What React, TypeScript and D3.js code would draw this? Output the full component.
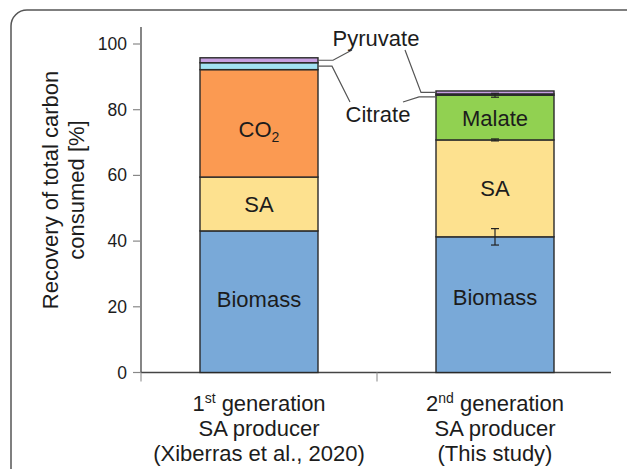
import React, { useEffect, useRef } from "react";
import * as d3 from "d3";

// stacked carbon recovery, bottom to top
const groups = ["gen1", "gen2"];
const components = ["Biomass", "SA", "CO2", "Malate", "Citrate", "Pyruvate"];
const gen1Values = [43.1, 16.4, 32.7, 0, 2.1, 1.5];
const gen2Values = [41.3, 29.5, 0, 13.6, 0.4, 0.9];
const gen2Errors = [2.5, 0.3, 0, 0.6, 0, 0];
const yTicks = [0, 20, 40, 60, 80, 100];
const colors = ["#79a9d8", "#fde18f", "#fb9a52", "#91d151", "#a2e2f4", "#c7a0e2"];
const gen1Labels = ["1st generation", "SA producer", "(Xiberras et al., 2020)"];
const gen2Labels = ["2nd generation", "SA producer", "(This study)"];

const W = 627;
const H = 469;

export default function App() {
  const ref = useRef<SVGSVGElement>(null);

  useEffect(() => {
    const svg = d3.select(ref.current);
    svg.selectAll("*").remove();
    const font = "Liberation Sans, Arial, sans-serif";
    const ink = "#1c1c1c";
    const fs = 22;

    // card frame
    svg.append("rect")
      .attr("x", 11).attr("y", 10).attr("width", 640).attr("height", 480)
      .attr("rx", 16)
      .attr("fill", "#fff").attr("stroke", "#555").attr("stroke-width", 1.5);

    const x = d3.scaleBand().domain(groups).range([141, 613]).paddingInner(0).paddingOuter(0);
    const barW = x.bandwidth() / 2;
    const y = d3.scaleLinear().domain([0, 100]).range([372.5, 44]);

    // y axis
    svg.append("line")
      .attr("x1", 141).attr("x2", 141).attr("y1", 27).attr("y2", y(0))
      .attr("stroke", "#444").attr("stroke-width", 1.3);
    yTicks.forEach((t) => {
      svg.append("line")
        .attr("x1", 133).attr("x2", 141).attr("y1", y(t)).attr("y2", y(t))
        .attr("stroke", "#888").attr("stroke-width", 1.2);
      svg.append("text")
        .attr("x", 127).attr("y", y(t) + 6)
        .attr("text-anchor", "end")
        .attr("font-family", font).attr("font-size", 17.5).attr("fill", ink)
        .text(t);
    });

    // x axis
    svg.append("line")
      .attr("x1", 141).attr("x2", 611).attr("y1", y(0)).attr("y2", y(0))
      .attr("stroke", "#444").attr("stroke-width", 1.3);
    [141, (x("gen2") as number)].forEach((tx) => {
      svg.append("line")
        .attr("x1", tx).attr("x2", tx).attr("y1", y(0)).attr("y2", y(0) + 9)
        .attr("stroke", "#999").attr("stroke-width", 1.2);
    });

    // y label
    const yl = svg.append("text")
      .attr("transform", "translate(58,190) rotate(-90)")
      .attr("text-anchor", "middle")
      .attr("font-family", font).attr("font-size", fs).attr("fill", ink);
    yl.append("tspan").attr("x", 0).attr("dy", 0).text("Recovery of total carbon");
    yl.append("tspan").attr("x", 0).attr("dy", 26).text("consumed [%]");

    const data = [gen1Values, gen2Values];
    data.forEach((vals, gi) => {
      const cx = (x(groups[gi]) as number) + x.bandwidth() / 2;
      let acc = 0;
      vals.forEach((v, ci) => {
        if (v <= 0) return;
        svg.append("rect")
          .attr("x", cx - barW / 2).attr("width", barW)
          .attr("y", y(acc + v)).attr("height", y(acc) - y(acc + v))
          .attr("fill", colors[ci]).attr("stroke", "#2a2a2a").attr("stroke-width", 1.4);
        acc += v;
      });
    });

    // error bars on 2nd generation
    {
      const cx = (x("gen2") as number) + x.bandwidth() / 2;
      let acc = 0;
      gen2Values.forEach((v, i) => {
        acc += v;
        const e = gen2Errors[i];
        if (e <= 0) return;
        const g = svg.append("g").attr("stroke", "#222").attr("stroke-width", 1.2);
        g.append("line").attr("x1", cx).attr("x2", cx).attr("y1", y(acc + e)).attr("y2", y(acc - e));
        g.append("line").attr("x1", cx - 4).attr("x2", cx + 4).attr("y1", y(acc + e)).attr("y2", y(acc + e));
        g.append("line").attr("x1", cx - 4).attr("x2", cx + 4).attr("y1", y(acc - e)).attr("y2", y(acc - e));
      });
    }

    // in-bar labels, placed at a value along the stack
    const inLabel = (gi: number, at: number, txt: string, sub?: string) => {
      const cx = (x(groups[gi]) as number) + x.bandwidth() / 2;
      const t = svg.append("text")
        .attr("x", cx).attr("y", y(at) + 8)
        .attr("text-anchor", "middle")
        .attr("font-family", font).attr("font-size", fs).attr("fill", ink);
      t.append("tspan").text(txt);
      if (sub) t.append("tspan").attr("font-size", 14).attr("dy", 5).text(sub);
    };
    inLabel(0, 22.4, "Biomass");
    inLabel(0, 51.4, "SA");
    inLabel(0, 74, "CO", "2");
    inLabel(1, 23, "Biomass");
    inLabel(1, 56.2, "SA");
    inLabel(1, 77.6, "Malate");

    // callouts
    const c1 = d3.cumsum(gen1Values);
    const c2 = d3.cumsum(gen2Values);
    const b1r = (x("gen1") as number) + x.bandwidth() / 2 + barW / 2;
    const b2l = (x("gen2") as number) + x.bandwidth() / 2 - barW / 2;
    const pyr1 = y((c1[4] + c1[5]) / 2);
    const cit1 = y((c1[3] + c1[4]) / 2);
    const pyr2 = y((c2[4] + c2[5]) / 2);
    const cit2 = y(c2[3] + 0.1);
    const lg = svg.append("g").attr("fill", "none").attr("stroke", "#555").attr("stroke-width", 1.2);
    lg.append("polyline").attr("points", `${b1r},${pyr1} ${333},${pyr1} ${352},${50}`);
    lg.append("polyline").attr("points", `${b1r},${cit1} ${332},${cit1} ${350},${102}`);
    lg.append("polyline").attr("points", `${405},${50} ${421},${pyr2} ${b2l},${pyr2}`);
    lg.append("polyline").attr("points", `${403},${102} ${419},${cit2 + 2} ${b2l},${cit2 + 2}`);

    svg.append("text").attr("x", 376).attr("y", 46)
      .attr("text-anchor", "middle").attr("font-family", font).attr("font-size", fs).attr("fill", ink)
      .text("Pyruvate");
    svg.append("text").attr("x", 378).attr("y", 122)
      .attr("text-anchor", "middle").attr("font-family", font).attr("font-size", fs).attr("fill", ink)
      .text("Citrate");

    // category labels
    const catLabel = (gi: number, lines: string[], sup: string) => {
      const cx = (x(groups[gi]) as number) + x.bandwidth() / 2;
      lines.forEach((l, i) => {
        const t = svg.append("text")
          .attr("x", cx).attr("y", 411 + i * 25)
          .attr("text-anchor", "middle")
          .attr("font-family", font).attr("font-size", fs).attr("fill", ink);
        if (i === 0) {
          t.append("tspan").text(l.slice(0, 1));
          t.append("tspan").attr("font-size", 14).attr("dy", -8).text(sup);
          t.append("tspan").attr("dy", 8).text(" " + l.slice(l.indexOf(" ") + 1));
        } else {
          t.text(l);
        }
      });
    };
    catLabel(0, gen1Labels, "st");
    catLabel(1, gen2Labels, "nd");
  }, []);

  return (
    <svg
      ref={ref}
      width={W}
      height={H}
      style={{ position: "absolute", left: 0, top: 0, background: "#fff" }}
    />
  );
}
